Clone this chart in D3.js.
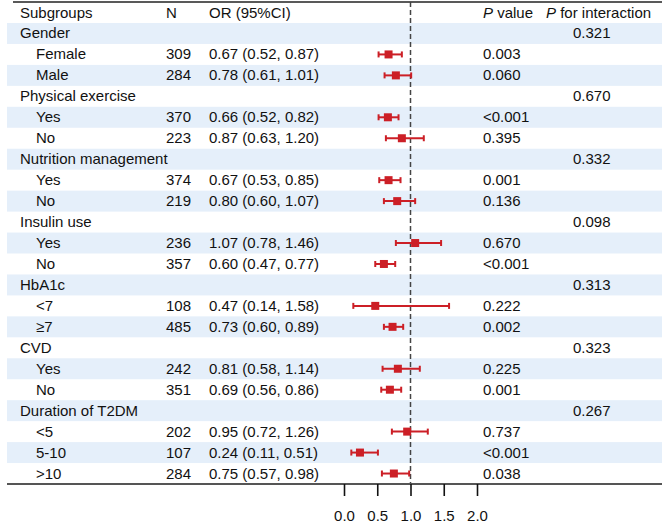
<!DOCTYPE html>
<html>
<head>
<meta charset="utf-8">
<title>Subgroup forest plot</title>
<style>
    body { margin: 0; background: #fff; }
    text { font-family: "Liberation Sans", Arial, sans-serif; font-size: 15px; fill: #111; }
    .band { fill: #e5effa; stroke: none; }
    .ci { stroke: #cc1f26; stroke-width: 2; fill: none; }
    .box { fill: #cc1f26; stroke: none; }
    .refline { stroke: #444; stroke-width: 1.5; stroke-dasharray: 5,3; }
    .axis text { font-family: "Liberation Sans Narrow", "Arial Narrow", sans-serif; font-size: 15px; fill: #111; }
    .axis line { stroke: #111; stroke-width: 1.6; }
</style>
</head>
<body>
<script src="https://cdn.jsdelivr.net/npm/d3@7"></script>
<script>

// table rows (groups followed by their subgroups)
var rowLabels  = ["Gender","Female","Male","Physical exercise","Yes","No","Nutrition management","Yes","No",
                  "Insulin use","Yes","No","HbA1c","<7","\u22657","CVD","Yes","No","Duration of T2DM","<5","5-10",">10"];
var isGroup    = [1,0,0,1,0,0,1,0,0,1,0,0,1,0,0,1,0,0,1,0,0,0];
var nValues    = [null,309,284,null,370,223,null,374,219,null,236,357,null,108,485,null,242,351,null,202,107,284];
var orValues   = [null,0.67,0.78,null,0.66,0.87,null,0.67,0.80,null,1.07,0.60,null,0.47,0.73,null,0.81,0.69,null,0.95,0.24,0.75];
var ciLower    = [null,0.52,0.61,null,0.52,0.63,null,0.53,0.60,null,0.78,0.47,null,0.14,0.60,null,0.58,0.56,null,0.72,0.11,0.57];
var ciUpper    = [null,0.87,1.01,null,0.82,1.20,null,0.85,1.07,null,1.46,0.77,null,1.58,0.89,null,1.14,0.86,null,1.26,0.51,0.98];
var pValues    = [null,"0.003","0.060",null,"<0.001","0.395",null,"0.001","0.136",null,"0.670","<0.001",null,"0.222","0.002",null,"0.225","0.001",null,"0.737","<0.001","0.038"];
var pInteract  = ["0.321",null,null,"0.670",null,null,"0.332",null,null,"0.098",null,null,"0.313",null,null,"0.323",null,null,"0.267",null,null,null];
var tickValues = [0, 0.5, 1.0, 1.5, 2.0];

var W = 665, H = 525;
var left = 7, right = 662, topY = 2, firstRow = 23, bottomY = 484;
var colGroup = 20, colSub = 36, colN = 166, colOR = 209, colP = 483, colPint = 546, colPintVal = 573;

var svg = d3.select("body").append("svg")
        .attr("width", W)
        .attr("height", H);

var idx = d3.range(rowLabels.length);
var y = d3.scaleBand().domain(idx).range([firstRow, bottomY]).padding(0);
var x = d3.scaleLinear().domain([0, 2]).range([344, 477]);

// alternating bands, starting with the first group row
svg.selectAll(".band")
    .data(idx.filter(function(i) { return i % 2 == 0; }))
    .enter().append("rect")
        .attr("class", "band")
        .attr("x", left)
        .attr("y", function(i) { return y(i); })
        .attr("width", right - left)
        .attr("height", y.bandwidth());

// header
var headY = (topY + firstRow) / 2 + 5;
svg.append("text").attr("x", colGroup).attr("y", headY).text("Subgroups");
svg.append("text").attr("x", colN).attr("y", headY).text("N");
svg.append("text").attr("x", colOR).attr("y", headY).text("OR (95%CI)");
var ph = svg.append("text").attr("x", colP).attr("y", headY);
ph.append("tspan").style("font-style", "italic").text("P");
ph.append("tspan").text(" value");
var pi = svg.append("text").attr("x", colPint).attr("y", headY);
pi.append("tspan").style("font-style", "italic").text("P");
pi.append("tspan").text(" for interaction");

// rows
var rows = svg.selectAll(".row")
    .data(idx)
    .enter().append("g")
        .attr("class", "row")
        .attr("transform", function(i) { return "translate(0," + (y(i) + y.bandwidth() / 2 + 5) + ")"; });

rows.append("text")
    .attr("x", function(i) { return isGroup[i] ? colGroup : colSub; })
    .text(function(i) { return rowLabels[i]; });
rows.filter(function(i) { return nValues[i] != null; }).append("text")
    .attr("x", colN)
    .text(function(i) { return nValues[i]; });
rows.filter(function(i) { return orValues[i] != null; }).append("text")
    .attr("x", colOR)
    .text(function(i) {
        return orValues[i].toFixed(2) + " (" + ciLower[i].toFixed(2) + ", " + ciUpper[i].toFixed(2) + ")";
    });
rows.filter(function(i) { return pValues[i] != null; }).append("text")
    .attr("x", colP)
    .text(function(i) { return pValues[i]; });
rows.filter(function(i) { return pInteract[i] != null; }).append("text")
    .attr("x", colPintVal)
    .text(function(i) { return pInteract[i]; });

// top rule
svg.append("line")
    .attr("x1", 13).attr("x2", right)
    .attr("y1", topY).attr("y2", topY)
    .attr("stroke", "#222").attr("stroke-width", 1.3);

// reference line at OR = 1
svg.append("line")
    .attr("class", "refline")
    .attr("x1", x(1)).attr("x2", x(1))
    .attr("y1", topY).attr("y2", bottomY);

// confidence intervals and point estimates
var est = svg.selectAll(".est")
    .data(idx.filter(function(i) { return orValues[i] != null; }))
    .enter().append("g")
        .attr("class", "est");
function cy(i) { return y(i) + y.bandwidth() / 2; }
est.append("line").attr("class", "ci")
    .attr("x1", function(i) { return x(ciLower[i]); })
    .attr("x2", function(i) { return x(ciUpper[i]); })
    .attr("y1", cy).attr("y2", cy);
est.append("line").attr("class", "ci")
    .attr("x1", function(i) { return x(ciLower[i]); })
    .attr("x2", function(i) { return x(ciLower[i]); })
    .attr("y1", function(i) { return cy(i) - 3; })
    .attr("y2", function(i) { return cy(i) + 3; });
est.append("line").attr("class", "ci")
    .attr("x1", function(i) { return x(ciUpper[i]); })
    .attr("x2", function(i) { return x(ciUpper[i]); })
    .attr("y1", function(i) { return cy(i) - 3; })
    .attr("y2", function(i) { return cy(i) + 3; });
est.append("rect").attr("class", "box")
    .attr("x", function(i) { return x(orValues[i]) - 4; })
    .attr("y", function(i) { return cy(i) - 4; })
    .attr("width", 8).attr("height", 8);

// bottom rule
svg.append("line")
    .attr("x1", left).attr("x2", right)
    .attr("y1", bottomY).attr("y2", bottomY)
    .attr("stroke", "#555").attr("stroke-width", 2);

// x axis
var axis = svg.append("g")
    .attr("class", "axis")
    .attr("transform", "translate(0," + bottomY + ")")
    .call(d3.axisBottom(x).tickValues(tickValues).tickSize(12).tickPadding(14).tickFormat(d3.format(".1f")));
axis.select(".domain").remove();
axis.selectAll("text").attr("font-family", null).attr("font-size", null);

</script>
</body>
</html>
